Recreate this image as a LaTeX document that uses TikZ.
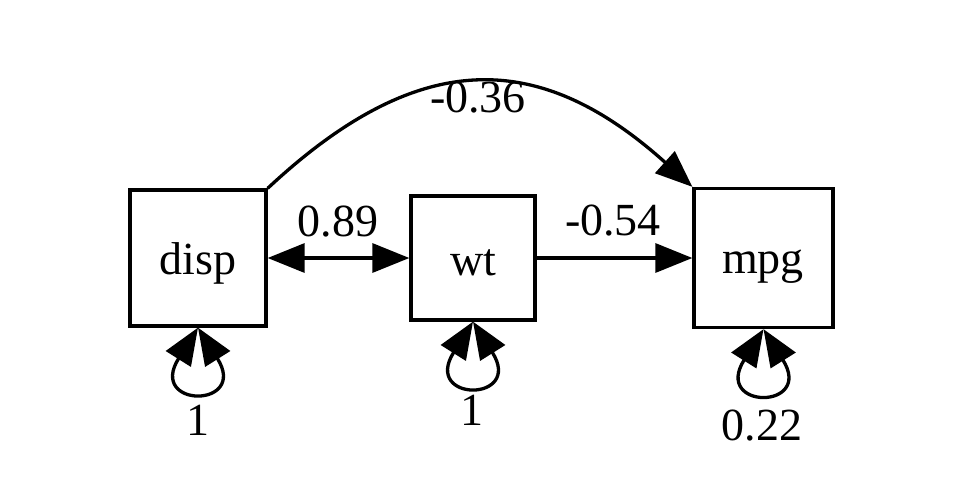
\documentclass[tikz,border=0pt]{standalone}
\usepackage{fontspec}
\setmainfont{Liberation Serif}
\usetikzlibrary{arrows.meta}
\begin{document}
\begin{tikzpicture}[x=1pt,y=-1pt,
  every node/.style={font=\fontsize{46}{50}\selectfont},
  var/.style={draw, line width=3.3pt, rectangle, inner sep=0pt},
  lbl/.style={anchor=base, inner sep=0pt},
  tip/.tip={Triangle[length=37pt,width=29pt]},
  conn/.style={line width=3.3pt, -tip},
  conn2/.style={line width=3.3pt, tip-tip}]
\useasboundingbox (0,0) rectangle (963,482);
\node[var, minimum size=136pt] (disp) at (198,258) {};
\node[var, minimum size=124pt] (wt) at (473,258) {};
\node[var, minimum size=139pt] (mpg) at (763.5,258) {};
\node[lbl] (tdisp) at (198,274) {disp};
\node[lbl] (twt) at (473,275) {wt};
\node[lbl] (tmpg) at (763,273) {mpg};
% connectors
\draw[conn2] (disp.east) -- (wt.west);
\draw[conn] (wt.east) -- (mpg.west);
\draw[conn] (disp.north east) .. controls (420,46) and (540,50) .. (mpg.north west);
% self loops
\draw[conn2] (disp.south) .. controls +(-51,81) and +(51,81) .. (disp.south);
\draw[conn2] (wt.south) .. controls +(-51,81) and +(51,81) .. (wt.south);
\draw[conn2] (mpg.south) .. controls +(-51,81) and +(51,81) .. (mpg.south);
% labels
\node[lbl] (l1) at (338,236) {0.89};
\node[lbl] (l2) at (613,235) {-0.54};
\node[lbl] (l3) at (478,112) {-0.36};
\node[lbl] (l4) at (198,435) {1};
\node[lbl] (l5) at (472,425) {1};
\node[lbl] (l6) at (762,440) {0.22};
\end{tikzpicture}
\end{document}
